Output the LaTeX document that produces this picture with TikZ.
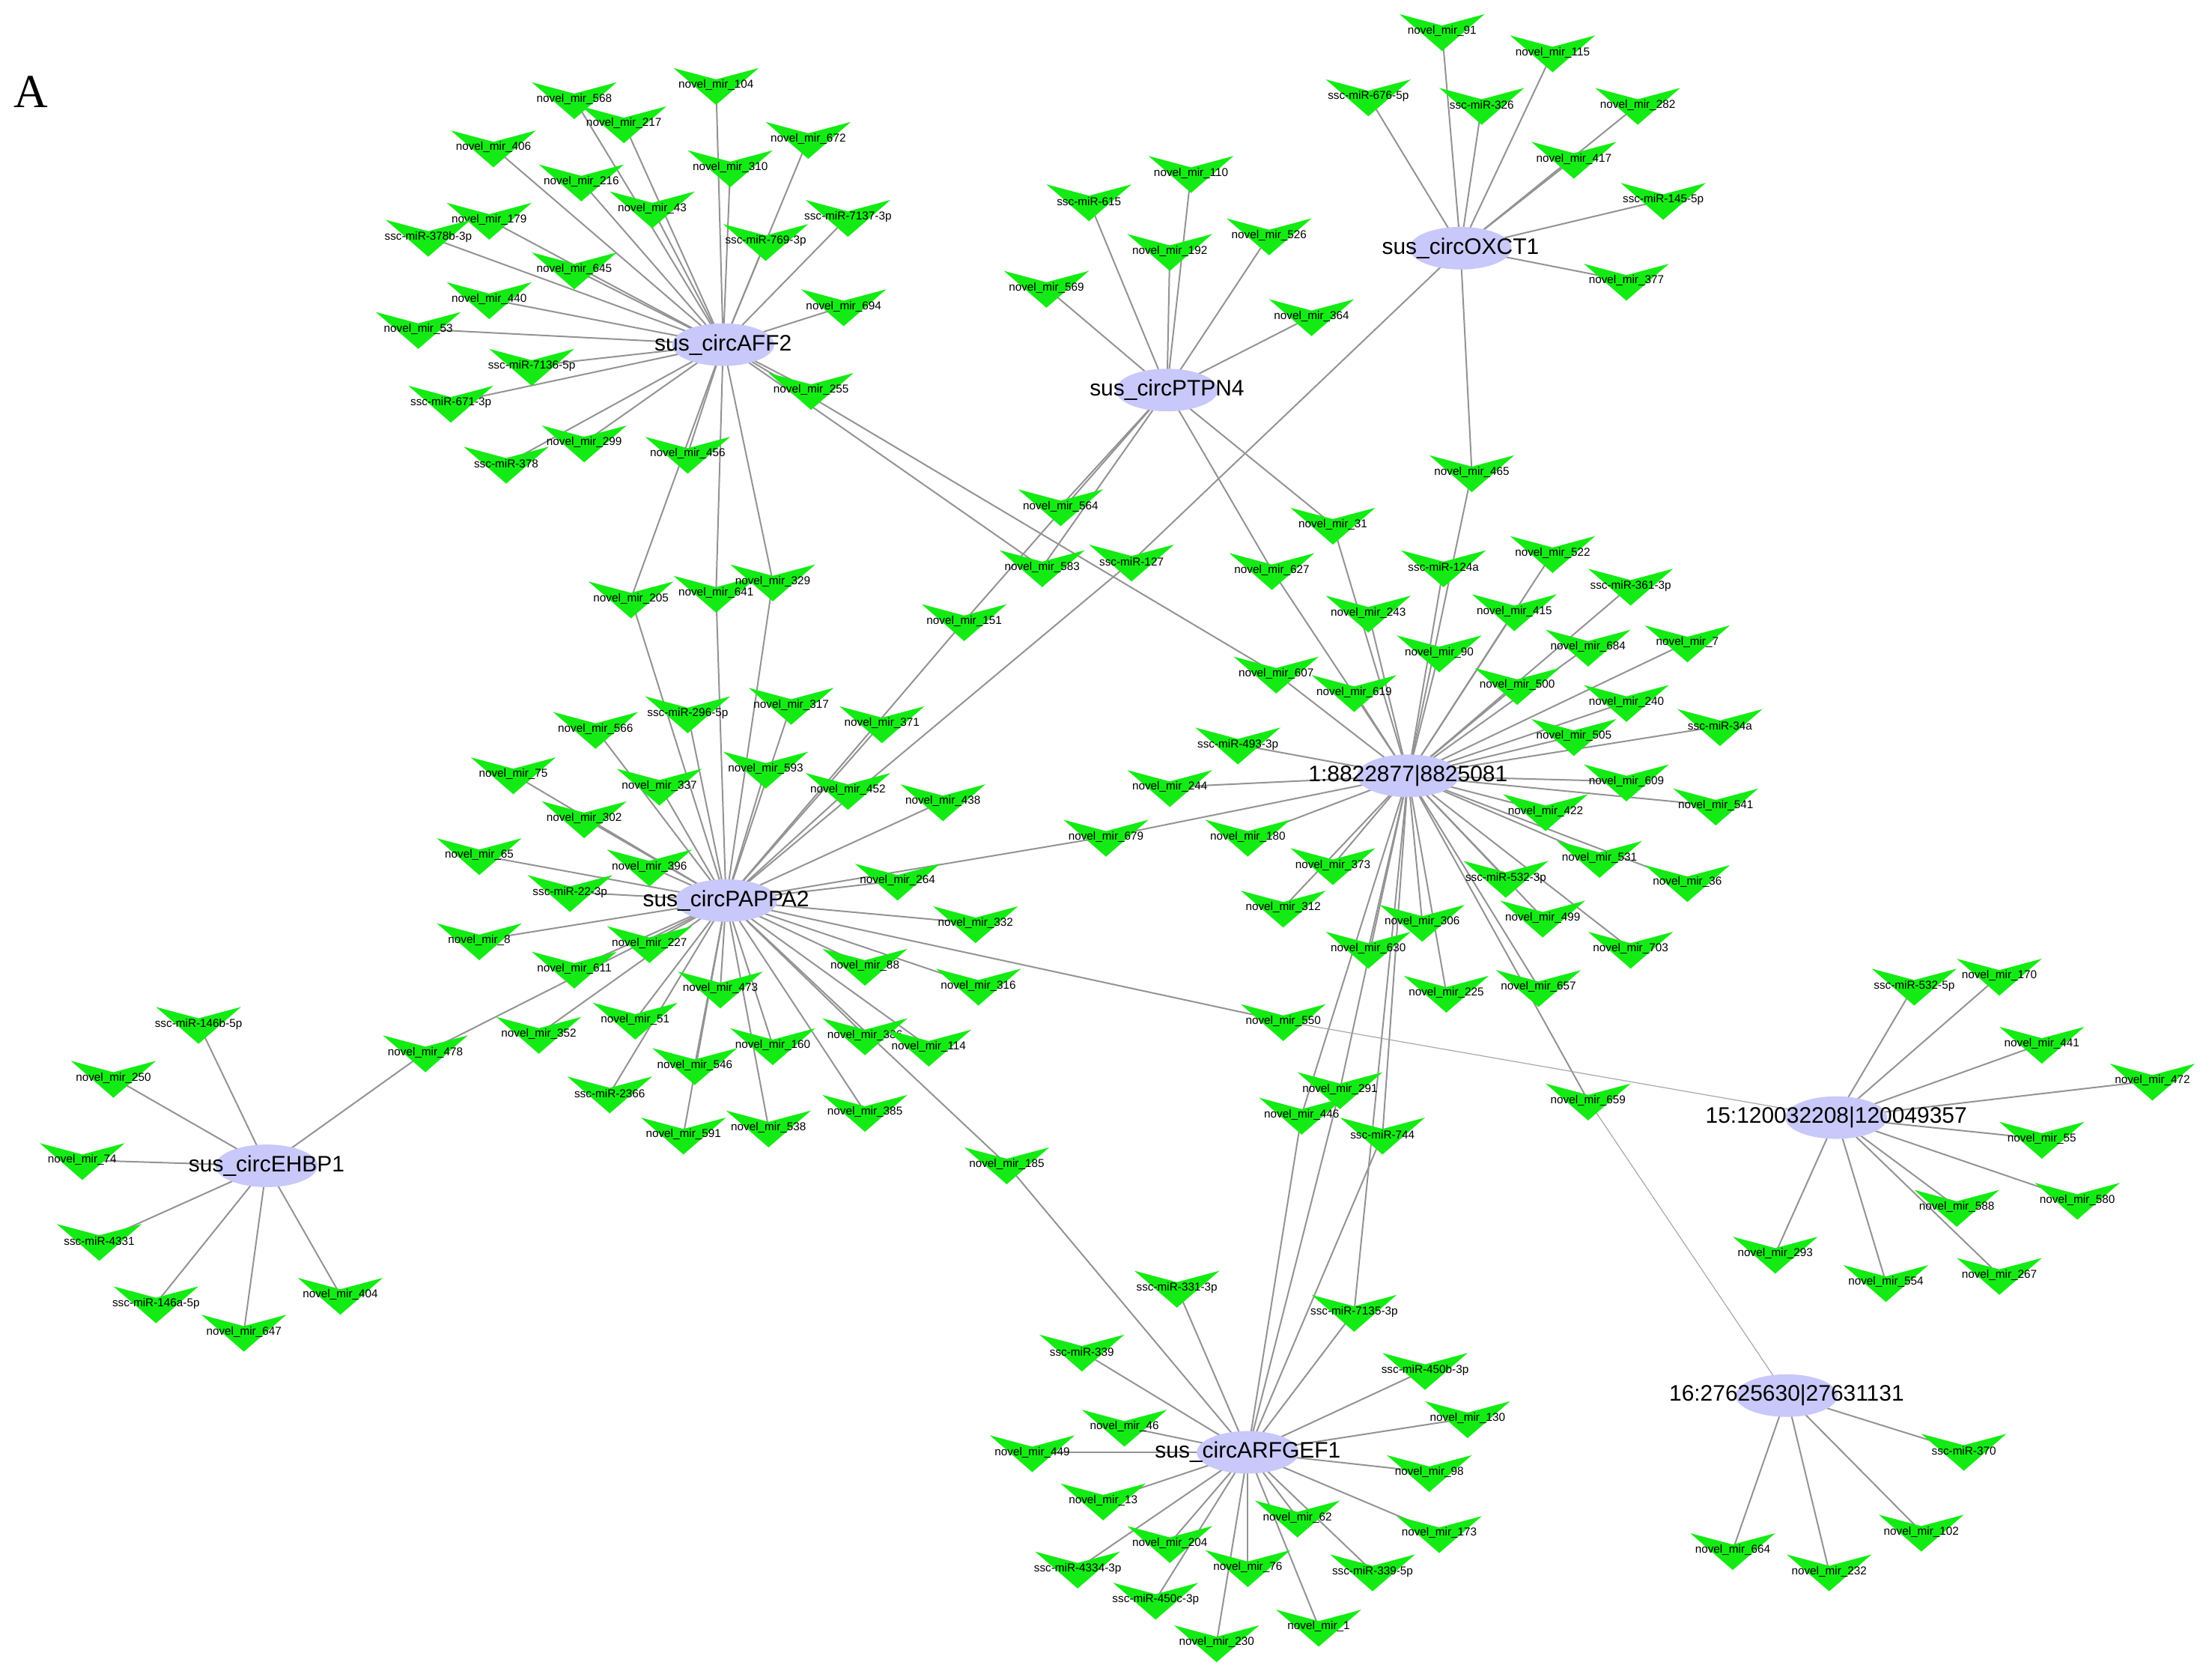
\documentclass[tikz,border=0pt]{standalone}
\usepackage{fontspec}
\setmainfont{Liberation Sans}
\newfontfamily\serifA{Liberation Serif}
\pgfdeclarelayer{bg}\pgfsetlayers{bg,main}
\tikzset{x=0.02cm,y=-0.02cm,
 mirlab/.style={inner sep=0pt,font=\fontsize{4.6}{5}\selectfont},
 hublab/.style={inner sep=0pt,font=\fontsize{9}{10}\selectfont},
 edge/.style={draw=gray!85,line width=0.6pt},
 thin edge/.style={draw=gray!70,line width=0.35pt}}
\definecolor{mirgreen}{RGB}{20,235,20}
\definecolor{hubfill}{RGB}{200,200,250}
\newcommand\Mmir[4]{\fill[mirgreen] (#2,#3) ++(-30,-12) -- ++(30,8) -- ++(30,-8) -- ++(-30,26) -- cycle;
 \node[mirlab] (#1) at (#2,#3) {#4};}
\newcommand\Nmir[3]{\Mmir{n#1}{#2}{#3}{novel\_mir\_#1}}
\newcommand\Hub[4]{\fill[hubfill] (#2,#3) ellipse (36 and 15);
 \node[hublab] (#1) at (#2,#3) {#4};}
\begin{document}
\begin{tikzpicture}
\useasboundingbox (0,0) rectangle (1560,1182);
\node[font=\serifA\fontsize{19}{20}\selectfont] (A) at (22,65) {A};
% hubs
\Hub{aff2}{510}{243}{sus\_circAFF2}
\Hub{ptpn4}{823}{275}{sus\_circPTPN4}
\Hub{oxct1}{1030}{175}{sus\_circOXCT1}
\Hub{hub1}{993}{547}{1:8822877|8825081}
\Hub{pappa2}{512}{635}{sus\_circPAPPA2}
\Hub{ehbp1}{188}{822}{sus\_circEHBP1}
\Hub{h15}{1295}{788}{15:120032208|120049357}
\Hub{h16}{1260}{984}{16:27625630|27631131}
\Hub{arf}{880}{1024}{sus\_circARFGEF1}
% AFF2 cluster
\Nmir{568}{405}{70}\Nmir{104}{505}{60}\Nmir{217}{440}{87}\Nmir{672}{570}{98}
\Nmir{406}{348}{104}\Nmir{310}{515}{118}\Nmir{216}{410}{128}
\Mmir{s7137}{598}{153}{ssc-miR-7137-3p}\Nmir{43}{460}{147}\Nmir{179}{345}{155}
\Mmir{s378b}{302}{167}{ssc-miR-378b-3p}\Mmir{s769}{540}{170}{ssc-miR-769-3p}
\Nmir{645}{405}{190}\Nmir{694}{595}{216}\Nmir{440}{345}{211}\Nmir{53}{295}{232}
\Mmir{s7136}{375}{258}{ssc-miR-7136-5p}\Nmir{255}{572}{275}\Mmir{s671}{318}{284}{ssc-miR-671-3p}
\Nmir{299}{412}{312}\Nmir{456}{485}{320}\Mmir{s378}{357}{327}{ssc-miR-378}
\Nmir{205}{445}{422}\Nmir{641}{505}{418}\Nmir{329}{545}{410}
% PTPN4
\Mmir{s615}{768}{142}{ssc-miR-615}\Nmir{110}{840}{122}\Nmir{192}{825}{177}\Nmir{526}{895}{166}
\Nmir{569}{738}{203}\Nmir{364}{925}{223}\Nmir{564}{748}{357}\Nmir{627}{897}{402}
\Nmir{31}{940}{370}\Nmir{583}{735}{400}\Nmir{151}{680}{438}
% OXCT1
\Nmir{91}{1017}{22}\Nmir{115}{1095}{37}\Mmir{s676}{965}{68}{ssc-miR-676-5p}
\Mmir{s326}{1045}{74}{ssc-miR-326}\Nmir{282}{1155}{74}\Nmir{417}{1110}{112}
\Mmir{s145}{1173}{141}{ssc-miR-145-5p}\Nmir{377}{1147}{198}\Nmir{465}{1038}{333}
\Mmir{s127}{798}{396}{ssc-miR-127}
% hub1
\Nmir{607}{900}{475}\Nmir{522}{1095}{390}\Mmir{s124a}{1018}{400}{ssc-miR-124a}
\Mmir{s361}{1150}{413}{ssc-miR-361-3p}\Nmir{243}{965}{432}\Nmir{415}{1068}{431}
\Nmir{684}{1120}{456}\Nmir{7}{1190}{453}\Nmir{90}{1015}{460}\Nmir{619}{955}{488}
\Nmir{500}{1070}{483}\Nmir{240}{1147}{495}\Mmir{s493}{873}{525}{ssc-miR-493-3p}
\Nmir{505}{1110}{519}\Mmir{s34a}{1213}{512}{ssc-miR-34a}\Nmir{244}{825}{555}
\Nmir{609}{1147}{551}\Nmir{541}{1210}{568}\Nmir{422}{1090}{572}\Nmir{180}{880}{590}
\Nmir{679}{780}{590}\Nmir{373}{940}{610}\Nmir{531}{1128}{605}
\Mmir{s532}{1062}{619}{ssc-miR-532-3p}\Nmir{36}{1190}{622}\Nmir{312}{905}{640}
\Nmir{306}{1003}{650}\Nmir{499}{1088}{647}\Nmir{630}{965}{669}\Nmir{703}{1150}{669}
\Nmir{225}{1020}{700}\Nmir{657}{1085}{696}\Nmir{659}{1120}{776}\Nmir{550}{905}{720}
\Nmir{291}{945}{768}\Nmir{446}{918}{786}\Mmir{s744}{975}{800}{ssc-miR-744}
% PAPPA2
\Mmir{s296}{485}{503}{ssc-miR-296-5p}\Nmir{317}{558}{497}\Nmir{371}{622}{510}
\Nmir{566}{420}{514}\Nmir{593}{540}{542}\Nmir{75}{362}{546}\Nmir{337}{465}{554}
\Nmir{452}{598}{557}\Nmir{438}{665}{565}\Nmir{302}{412}{577}\Nmir{65}{338}{603}
\Nmir{396}{458}{611}\Mmir{s22}{402}{629}{ssc-miR-22-3p}\Nmir{264}{633}{621}
\Nmir{332}{688}{651}\Nmir{8}{338}{663}\Nmir{227}{458}{665}\Nmir{611}{405}{683}
\Nmir{88}{610}{681}\Nmir{473}{508}{697}\Nmir{316}{690}{695}\Nmir{51}{448}{719}
\Nmir{352}{380}{729}\Nmir{160}{545}{737}\Nmir{386}{610}{730}\Nmir{114}{655}{738}
\Nmir{546}{490}{751}\Nmir{478}{300}{742}\Mmir{s2366}{430}{771}{ssc-miR-2366}
\Nmir{385}{610}{784}\Nmir{538}{542}{795}\Nmir{591}{482}{800}\Nmir{185}{710}{821}
% EHBP1
\Mmir{s146b}{140}{722}{ssc-miR-146b-5p}\Nmir{250}{80}{760}\Nmir{74}{58}{818}
\Mmir{s4331}{70}{875}{ssc-miR-4331}\Mmir{s146a}{110}{919}{ssc-miR-146a-5p}
\Nmir{647}{172}{939}\Nmir{404}{240}{913}
% 15
\Mmir{s532b}{1350}{695}{ssc-miR-532-5p}\Nmir{170}{1410}{688}\Nmir{441}{1440}{736}
\Nmir{472}{1518}{762}\Nmir{55}{1440}{803}\Nmir{580}{1465}{846}\Nmir{588}{1380}{851}
\Nmir{293}{1252}{884}\Nmir{554}{1330}{904}\Nmir{267}{1410}{899}
% 16
\Mmir{s370}{1385}{1023}{ssc-miR-370}\Nmir{102}{1355}{1080}\Nmir{664}{1222}{1093}\Nmir{232}{1290}{1108}
% ARFGEF1
\Mmir{s331}{830}{908}{ssc-miR-331-3p}\Mmir{s7135}{955}{925}{ssc-miR-7135-3p}
\Mmir{s339}{763}{953}{ssc-miR-339}\Mmir{s450b}{1005}{966}{ssc-miR-450b-3p}
\Nmir{46}{793}{1006}\Nmir{130}{1035}{1000}\Nmir{449}{728}{1024}\Nmir{98}{1008}{1038}
\Nmir{13}{778}{1058}\Nmir{62}{915}{1070}\Nmir{173}{1015}{1081}\Nmir{204}{825}{1088}
\Mmir{s4334}{760}{1106}{ssc-miR-4334-3p}\Nmir{76}{880}{1105}
\Mmir{s339b}{968}{1108}{ssc-miR-339-5p}\Mmir{s450c}{815}{1128}{ssc-miR-450c-3p}
\Nmir{1}{930}{1147}\Nmir{230}{858}{1158}
% edges
\begin{pgfonlayer}{bg}
\foreach \m in {n568,n104,n217,n672,n406,n310,n216,s7137,n43,n179,s378b,s769,n645,n694,n440,n53,s7136,n255,s671,n299,n456,s378,n205,n641,n329,n583,n607}
  \draw[edge] (aff2.center) -- (\m.center);
\foreach \m in {s615,n110,n192,n526,n569,n364,n564,n627,n31,n583,n151}
  \draw[edge] (ptpn4.center) -- (\m.center);
\foreach \m in {n91,n115,s676,s326,n282,n417,s145,n377,n465,s127}
  \draw[edge] (oxct1.center) -- (\m.center);
\foreach \m in {n465,n31,n627,n607,n522,s124a,s361,n243,n415,n684,n7,n90,n619,n500,n240,s493,n505,s34a,n244,n609,n541,n422,n180,n679,n373,n531,s532,n36,n312,n306,n499,n630,n703,n225,n657,n659,n291,n446,s744,s7135}
  \draw[edge] (hub1.center) -- (\m.center);
\foreach \m in {s296,n317,n371,n566,n593,n75,n337,n452,n438,n302,n65,n396,s22,n264,n332,n8,n227,n611,n88,n473,n316,n51,n352,n160,n386,n114,n546,n478,s2366,n385,n538,n591,n185,n679,n550,s127,n151,n205,n641,n329}
  \draw[edge] (pappa2.center) -- (\m.center);
\foreach \m in {s146b,n250,n74,s4331,s146a,n647,n404,n478}
  \draw[edge] (ehbp1.center) -- (\m.center);
\foreach \m in {s532b,n170,n441,n472,n55,n580,n588,n293,n554,n267}
  \draw[edge] (h15.center) -- (\m.center);
\draw[thin edge] (h15.center) -- (n550.center);
\foreach \m in {s370,n102,n664,n232}
  \draw[edge] (h16.center) -- (\m.center);
\draw[thin edge] (h16.center) -- (n659.center);
\foreach \m in {s331,s7135,s339,s450b,n46,n130,n449,n98,n13,n62,n173,n204,s4334,n76,s339b,s450c,n1,n230,n185,n291,n446,s744}
  \draw[edge] (arf.center) -- (\m.center);
\end{pgfonlayer}
\end{tikzpicture}
\end{document}
